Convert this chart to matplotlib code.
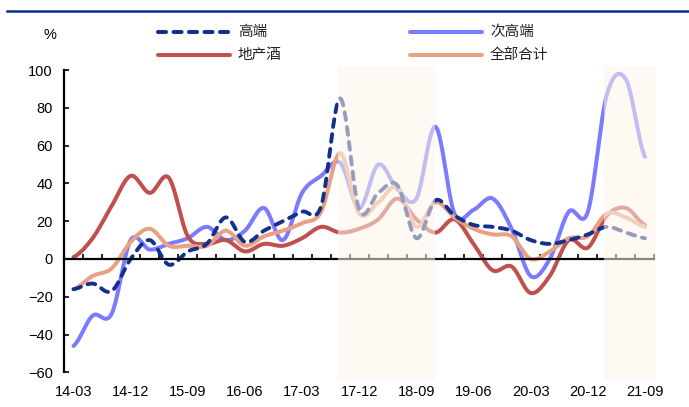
import numpy as np
import matplotlib
matplotlib.use('Agg')
import matplotlib.pyplot as plt
from matplotlib.lines import Line2D

plt.rcParams['font.family'] = ['Liberation Sans', 'Noto Sans CJK SC']

# trimestres 2014Q1 -> 2021Q3
trimestres = ['14-03', '14-06', '14-09', '14-12', '15-03', '15-06', '15-09', '15-12',
              '16-03', '16-06', '16-09', '16-12', '17-03', '17-06', '17-09', '17-12',
              '18-03', '18-06', '18-09', '18-12', '19-03', '19-06', '19-09', '19-12',
              '20-03', '20-06', '20-09', '20-12', '21-03', '21-06', '21-09']

gaoduan = [-16, -13, -17, 0, 10, -3, 4, 8, 22, 9, 15, 20, 25, 28, 85, 26,
           35, 39, 11, 31, 23, 18, 17, 15, 10, 8, 10, 13, 17, 14, 11]
cigaoduan = [-46, -30, -29, 10, 5, 8, 11, 17, 10, 15, 27, 10, 35, 44, 51, 27,
             50, 37, 32, 70, 24, 26, 32, 16, -9, 0, 25, 25, 87, 95, 54]
dichanjiu = [1, 11, 28, 44, 35, 43, 12, 8, 10, 4, 8, 7, 11, 17, 14, 16,
             21, 32, 21, 14, 21, 8, -6, -4, -18, -9, 10, 6, 23, 27, 18]
quanbu = [-16, -9, -5, 9, 16, 7, 7, 7, 15, 7, 12, 15, 19, 25, 56, 24,
          30, 38, 17, 30, 22, 16, 13, 12, 0, 4, 11, 12, 24, 22, 17]

noms = ['高端', '次高端', '地产酒', '全部合计']
couleurs = ['#14308f', '#7b7bff', '#c0504d', '#e9a183']

# periodes mises en evidence (en index de trimestre)
zones = [(13.9, 19.0), (27.85, 30.6)]


def lisser(y, n=24):
    # spline de Catmull-Rom, comme les courbes lissees d'Excel
    y = np.asarray(y, dtype=float)
    p = np.concatenate([[y[0]], y, [y[-1]]])
    xs, ys = [], []
    t = np.linspace(0, 1, n, endpoint=False)
    for i in range(len(y) - 1):
        p0, p1, p2, p3 = p[i], p[i + 1], p[i + 2], p[i + 3]
        seg = 0.5 * (2 * p1 + (p2 - p0) * t + (2 * p0 - 5 * p1 + 4 * p2 - p3) * t ** 2
                     + (-p0 + 3 * p1 - 3 * p2 + p3) * t ** 3)
        xs.extend(i + t)
        ys.extend(seg)
    xs.append(len(y) - 1)
    ys.append(y[-1])
    return np.array(xs), np.array(ys)


fig = plt.figure(figsize=(6.89, 4.07), dpi=100)
ax = fig.add_axes([64 / 689, 1 - 372.4 / 407, 590.5 / 689, 302.4 / 407])

series = [gaoduan, cigaoduan, dichanjiu, quanbu]
for k, (vals, c) in enumerate(zip(series, couleurs)):
    xs, ys = lisser(vals)
    if k == 0:
        ligne, = ax.plot(xs, ys, color=c, lw=2.8, zorder=2.2, dash_capstyle='round')
        ligne.set_dashes((2.0, 1.85))
    else:
        ax.plot(xs, ys, color=c, lw=2.9, zorder=2, solid_capstyle='round')

for a, b in zones:
    ax.axvspan(a, b, ymin=-0.025, ymax=1.012, color='#fef6ea', alpha=0.55,
               lw=0, zorder=3, clip_on=False)

ax.set_xlim(-0.5, len(trimestres) - 0.5)
ax.set_ylim(-60, 100)
ax.set_yticks(np.arange(-60, 101, 20))

ax.spines['top'].set_visible(False)
ax.spines['right'].set_visible(False)
ax.spines['bottom'].set_position(('data', 0))
ax.spines['left'].set_linewidth(1.6)
ax.spines['bottom'].set_linewidth(1.6)

ax.set_xticks(np.arange(0, len(trimestres), 3))
ax.set_xticklabels(trimestres[::3])
ax.set_xticks(np.arange(0.5, len(trimestres), 1), minor=True)
ax.tick_params(axis='x', which='major', length=0, pad=91, labelsize=10.5)
ax.tick_params(axis='x', which='minor', direction='in', length=3.5, width=1.2)
ax.tick_params(axis='y', direction='in', length=3.5, width=1.2, pad=8, labelsize=10.5)

# legende
pos_leg = [(158, 32), (410, 32), (158, 55), (410, 55)]
for k, (nom, c) in enumerate(zip(noms, couleurs)):
    x0, y0 = pos_leg[k]
    l = Line2D([x0 / 689, (x0 + 72) / 689], [1 - y0 / 407] * 2, transform=fig.transFigure,
               color=c, lw=2.9, solid_capstyle='round', dash_capstyle='round')
    if k == 0:
        l.set_dashes((2.0, 1.85))
    fig.add_artist(l)
    fig.text((x0 + 80) / 689, 1 - y0 / 407, nom, fontsize=10.5, va='center',
             ha='left', color='#222222', family=['Noto Sans CJK SC'])

fig.text(50 / 689, 1 - 35 / 407, '%', fontsize=10.5, ha='center', va='center')
fig.add_artist(Line2D([7 / 689, 1], [1 - 11 / 407] * 2, transform=fig.transFigure,
                      color='#0b2f8e', lw=1.8))

fig.savefig('out.png', dpi=100)
